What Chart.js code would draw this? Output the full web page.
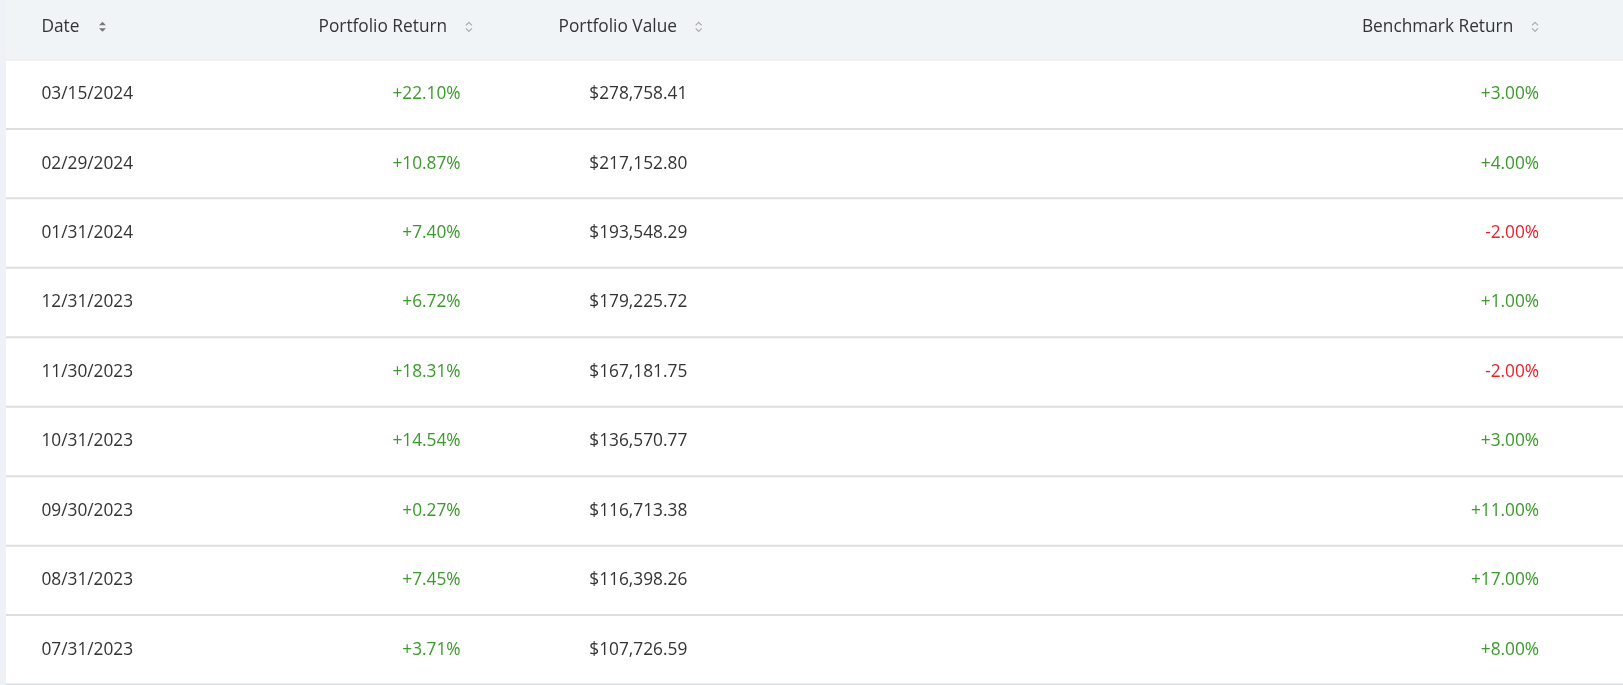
<!DOCTYPE html>
<html><head><meta charset="utf-8">
<script src="https://cdn.jsdelivr.net/npm/chart.js@4.4.1/dist/chart.umd.min.js"></script>
<style>html,body{margin:0;padding:0;background:#fff;overflow:hidden}#wrap{width:1623px;height:685px}</style>
</head><body><div id="wrap"><canvas id="c"></canvas></div>
<script>
const headers = ["Date", "Portfolio Return", "Portfolio Value", "Benchmark Return"];
const dates = ["03/15/2024","02/29/2024","01/31/2024","12/31/2023","11/30/2023","10/31/2023","09/30/2023","08/31/2023","07/31/2023"];
const portfolioReturn = [22.10,10.87,7.40,6.72,18.31,14.54,0.27,7.45,3.71];
const portfolioValue = [278758.41,217152.80,193548.29,179225.72,167181.75,136570.77,116713.38,116398.26,107726.59];
const benchmarkReturn = [3,4,-2,1,-2,3,11,17,8];

const S = 1623/1568;
const FONT = '17.3px "Source Sans Pro", "Open Sans", Lato, sans-serif';
const GREEN = '#3a9a2a', RED = '#e8212b', TEXT = '#333';
const pct = v => (v >= 0 ? '+' : '') + v.toFixed(2) + '%';
const money = v => '$' + v.toLocaleString('en-US',{minimumFractionDigits:2,maximumFractionDigits:2});

function chev(ctx,x,y,dark){
  ctx.save();ctx.strokeStyle=dark?'#777':'#aaa';ctx.fillStyle='#777';ctx.lineWidth=1.2;
  if(dark){
    ctx.beginPath();ctx.moveTo(x-3.5,y-1.5);ctx.lineTo(x,y-5);ctx.lineTo(x+3.5,y-1.5);ctx.closePath();ctx.fill();
    ctx.beginPath();ctx.moveTo(x-3.5,y+1.5);ctx.lineTo(x,y+5);ctx.lineTo(x+3.5,y+1.5);ctx.closePath();ctx.fill();
  } else {
    ctx.beginPath();ctx.moveTo(x-3,y-1.5);ctx.lineTo(x,y-4.5);ctx.lineTo(x+3,y-1.5);ctx.stroke();
    ctx.beginPath();ctx.moveTo(x-3,y+1.5);ctx.lineTo(x,y+4.5);ctx.lineTo(x+3,y+1.5);ctx.stroke();
  }
  ctx.restore();
}

const tablePlugin = {
  id:'table',
  beforeDraw(chart){
    const ctx=chart.ctx, xs=chart.scales.x, ys=chart.scales.y;
    const W=chart.width, H=chart.height;
    const X=v=>xs.getPixelForValue(v*S);
    ctx.save();
    ctx.fillStyle='#fff';ctx.fillRect(0,0,W,H);
    ctx.fillStyle='#eef2f6';ctx.fillRect(0,0,6,H);
    const hTop=ys.getPixelForValue(-1.44), hBot=ys.getPixelForValue(-0.5);
    ctx.fillStyle='#f0f4f7';ctx.fillRect(6,hTop,W-6,hBot-hTop);
    ctx.strokeStyle='#e2e6ea';ctx.lineWidth=1;
    ctx.beginPath();ctx.moveTo(6,hBot+0.5);ctx.lineTo(W,hBot+0.5);ctx.stroke();
    ctx.strokeStyle='#dcdfe2';ctx.lineWidth=2;
    for(let i=0;i<dates.length;i++){
      const yb=ys.getPixelForValue(i+0.5);
      ctx.beginPath();ctx.moveTo(6,yb);ctx.lineTo(W,yb);ctx.stroke();
    }
    ctx.font=FONT;ctx.textBaseline='middle';
    const hy=ys.getPixelForValue(-0.97);
    ctx.fillStyle=TEXT;
    ctx.textAlign='left';ctx.fillText(headers[0],X(40),hy);
    chev(ctx,X(99),hy,true);
    ctx.textAlign='right';
    ctx.fillText(headers[1],X(432),hy);chev(ctx,X(453),hy,false);
    ctx.fillText(headers[2],X(654),hy);chev(ctx,X(675),hy,false);
    ctx.fillText(headers[3],X(1462),hy);chev(ctx,X(1483),hy,false);
    for(let i=0;i<dates.length;i++){
      const y=ys.getPixelForValue(i);
      ctx.fillStyle=TEXT;ctx.textAlign='left';ctx.fillText(dates[i],X(40),y);
      ctx.textAlign='right';
      ctx.fillStyle=portfolioReturn[i]>=0?GREEN:RED;ctx.fillText(pct(portfolioReturn[i]),X(445),y);
      ctx.fillStyle=TEXT;ctx.fillText(money(portfolioValue[i]),X(664),y);
      ctx.fillStyle=benchmarkReturn[i]>=0?GREEN:RED;ctx.fillText(pct(benchmarkReturn[i]),X(1487),y);
    }
    ctx.restore();
  }
};

// rows: center of row i at (91 + 67.1*i)*S px
const yMin = -91/67.1, yMax = (685/S-91)/67.1;
new Chart(document.getElementById('c'),{
  type:'scatter',
  data:{datasets:[{data:dates.map((d,i)=>({x:40,y:i})),pointRadius:0}]},
  options:{
    responsive:true,maintainAspectRatio:false,animation:false,
    layout:{padding:0},
    plugins:{legend:{display:false},tooltip:{enabled:false}},
    scales:{
      x:{type:'linear',min:0,max:1623,display:false},
      y:{type:'linear',min:yMin,max:yMax,reverse:true,display:false}
    }
  },
  plugins:[tablePlugin]
});
</script></body></html>
